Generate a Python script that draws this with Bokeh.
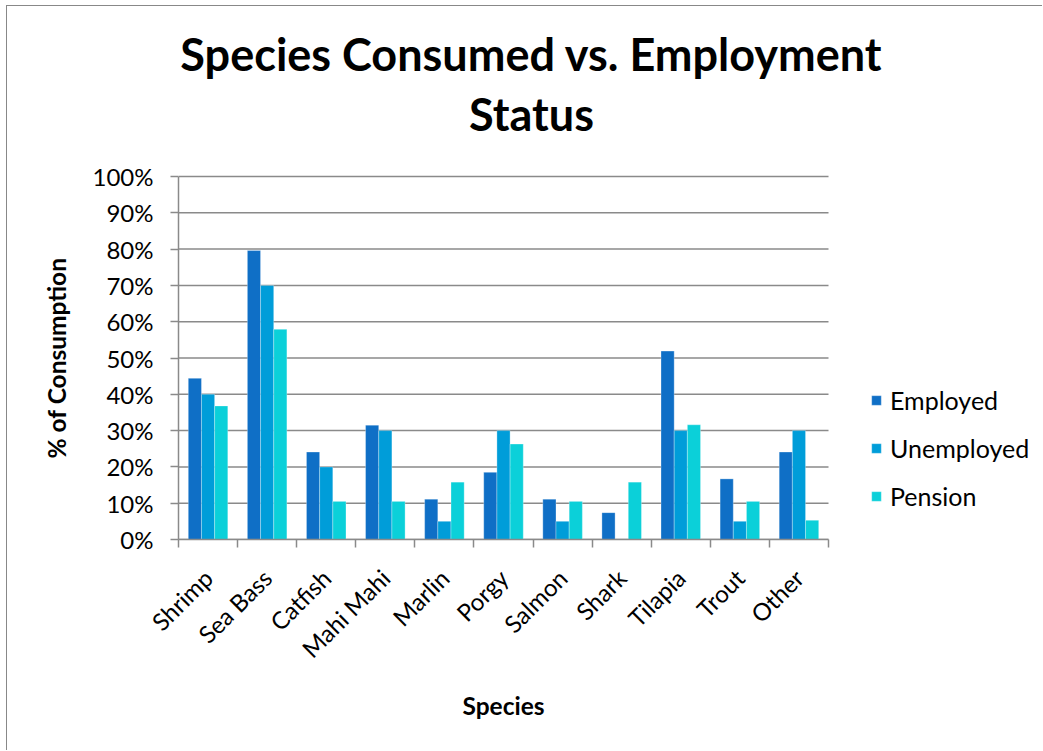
from math import pi

from bokeh.embed import file_html
from bokeh.models import (ColumnDataSource, FixedTicker, Label, Legend,
                          LegendItem, LinearAxis, NumeralTickFormatter, Range1d)
from bokeh.plotting import figure
from bokeh.resources import INLINE

# Share of respondents in each group who eat each species
species = ["Shrimp", "Sea Bass", "Catfish", "Mahi Mahi", "Marlin", "Porgy",
           "Salmon", "Shark", "Tilapia", "Trout", "Other"]
employed = [0.444, 0.796, 0.241, 0.315, 0.111, 0.185, 0.111, 0.074, 0.519, 0.167, 0.241]
unemployed = [0.40, 0.70, 0.20, 0.30, 0.05, 0.30, 0.05, 0.00, 0.30, 0.05, 0.30]
pension = [0.368, 0.579, 0.105, 0.105, 0.158, 0.263, 0.105, 0.158, 0.316, 0.105, 0.053]

groups = ["Employed", "Unemployed", "Pension"]
colors = ["#0F6FC6", "#009DD9", "#0BD0D9"]
series = [employed, unemployed, pension]

y_ticks = [i / 10 for i in range(11)]

FONT = "Lato"
GRAY = "#8a8a8a"
BAR_W = 0.223

W, H = 1036, 745
LEFT, BOTTOM = 171, 212
PLOT_W, PLOT_H = 650, 363          # pixel size of the 0..11 x 0..1 bar area
n = len(species)

# the frame runs to the right and top edges so that the title and the
# legend can sit inside it; axes are bounded to the bar area
x_end = n * (W - LEFT) / PLOT_W
y_end = (H - BOTTOM) / PLOT_H

p = figure(width=W, height=H,
           x_range=Range1d(0, x_end), y_range=Range1d(0, y_end),
           output_backend="svg", toolbar_location=None,
           min_border_left=LEFT, min_border_right=0,
           min_border_top=0, min_border_bottom=BOTTOM)
p.styles = {"margin-left": "6px", "margin-top": "5px",
            "border-left": "1px solid #888888",
            "border-top": "1px solid #888888"}
p.outline_line_color = None
p.background_fill_color = "white"
p.border_fill_color = "white"
p.xgrid.grid_line_color = None
p.ygrid.grid_line_color = None

# horizontal gridlines across the bar area only
p.segment(x0=0, x1=n, y0=y_ticks, y1=y_ticks, line_color=GRAY, line_width=1.5)

centers = [i + 0.5 for i in range(n)]
items = []
for k, (name, vals, col) in enumerate(zip(groups, series, colors)):
    src = ColumnDataSource(dict(x=[c + (k - 1) * BAR_W for c in centers], top=vals))
    r = p.vbar(x="x", top="top", width=BAR_W, bottom=0, source=src,
               fill_color=col, line_color="white", line_width=0.6, line_alpha=0.5)
    items.append(LegendItem(label=name, renderers=[r]))

# category labels at the centres, boundary ticks as minor ticks
p.xaxis.bounds = (0, n)
p.xaxis.ticker = FixedTicker(ticks=centers, minor_ticks=list(range(n + 1)))
p.xaxis.major_label_overrides = {c: s for c, s in zip(centers, species)}
p.xaxis.major_label_orientation = pi / 4
p.xaxis.major_tick_out = 0
p.xaxis.major_tick_in = 0
p.xaxis.minor_tick_out = 8
p.xaxis.minor_tick_in = 0
p.xaxis.minor_tick_line_color = GRAY
p.xaxis.minor_tick_line_width = 1.5
p.xaxis.axis_line_color = GRAY
p.xaxis.axis_line_width = 1.5
p.xaxis.major_label_standoff = 26

p.yaxis.bounds = (0, 1)
p.yaxis.ticker = FixedTicker(ticks=y_ticks)
p.yaxis.formatter = NumeralTickFormatter(format="0%")
p.yaxis.major_tick_out = 8
p.yaxis.major_tick_in = 0
p.yaxis.minor_tick_line_color = None
p.yaxis.major_tick_line_color = GRAY
p.yaxis.major_tick_line_width = 1.5
p.yaxis.axis_line_color = GRAY
p.yaxis.axis_line_width = 1.5
p.yaxis.major_label_standoff = 17

for ax in (p.xaxis[0], p.yaxis[0]):
    ax.major_label_text_font = FONT
    ax.major_label_text_font_size = "24px"
    ax.major_label_text_color = "black"


# axis titles, centred on the bar area rather than on the whole frame
def title_axis(tick, text, standoff, orientation):
    ax = LinearAxis(ticker=FixedTicker(ticks=[tick]),
                    major_label_overrides={tick: text},
                    major_label_orientation=orientation,
                    major_label_standoff=standoff,
                    major_tick_out=0, major_tick_in=0,
                    major_tick_line_color=None, minor_tick_line_color=None,
                    axis_line_color=None,
                    major_label_text_font=FONT, major_label_text_font_size="24.5px",
                    major_label_text_font_style="bold",
                    major_label_text_color="black")
    return ax


p.add_layout(title_axis(n / 2, "Species", 14, "horizontal"), "below")
p.add_layout(title_axis(0.5, "% of Consumption", 19, "vertical"), "left")

# two-line chart title
for txt, y in (("Species Consumed vs. Employment", 486), ("Status", 426)):
    p.add_layout(Label(x=353, y=y, x_units="screen", y_units="screen", text=txt,
                       text_font=FONT, text_font_size="45px",
                       text_font_style="bold", text_color="black",
                       text_align="center", text_baseline="middle"))

legend = Legend(items=items, location=(692, 28),
                glyph_width=12, glyph_height=12, label_height=28,
                label_standoff=8, spacing=18, padding=0, margin=0,
                label_text_font=FONT, label_text_font_size="25px",
                label_text_color="black",
                border_line_color=None, background_fill_alpha=0)
p.add_layout(legend)

open("out.html", "w").write(file_html(p, INLINE))
